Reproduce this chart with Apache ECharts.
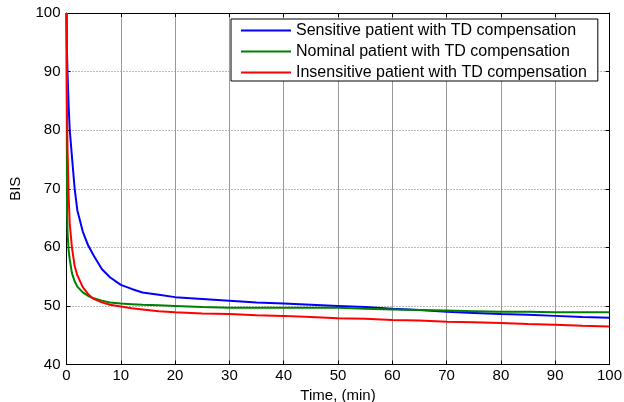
<!DOCTYPE html>
<html>
<head>
<meta charset="utf-8">
<script src="https://cdn.jsdelivr.net/npm/echarts@6/dist/echarts.min.js"></script>
<style>html,body{margin:0;padding:0;background:#fff;}#chart{width:624px;height:402px;}</style>
</head>
<body>
<div id="chart"></div>
<script>
var time        = [0, 0.1, 0.2, 0.4, 0.6, 1, 1.5, 2, 3, 4, 5, 6.5, 8, 10, 12, 14, 17, 20, 25, 30, 35, 40, 45, 50, 55, 60, 65, 70, 75, 80, 85, 90, 95, 100];
var sensitive   = [100, 93, 89.5, 84, 80, 75.5, 70, 66.3, 62.7, 60.3, 58.6, 56.3, 54.9, 53.6, 52.9, 52.3, 51.9, 51.5, 51.2, 50.9, 50.6, 50.4, 50.2, 50.0, 49.8, 49.5, 49.3, 49.0, 48.8, 48.6, 48.5, 48.3, 48.1, 48.0];
var nominal     = [100, 66, 62.5, 59.5, 57.9, 55.6, 54.2, 53.3, 52.3, 51.7, 51.3, 50.9, 50.6, 50.4, 50.3, 50.2, 50.1, 50.0, 49.8, 49.7, 49.7, 49.7, 49.7, 49.7, 49.5, 49.4, 49.3, 49.2, 49.1, 49.0, 49.0, 48.9, 48.9, 48.9];
var insensitive = [100, 82, 76.5, 68.5, 64, 60, 56.8, 55.2, 53.2, 52.0, 51.2, 50.6, 50.2, 49.9, 49.6, 49.4, 49.1, 48.9, 48.7, 48.6, 48.4, 48.3, 48.1, 47.9, 47.8, 47.6, 47.5, 47.3, 47.2, 47.1, 46.9, 46.8, 46.6, 46.5];
var seriesNames = ['Sensitive patient with TD compensation', 'Nominal patient with TD compensation', 'Insensitive patient with TD compensation'];
var xTicks = [0, 10, 20, 30, 40, 50, 60, 70, 80, 90, 100];
var yTicks = [40, 50, 60, 70, 80, 90, 100];

function pairs(vals) { return time.map(function (t, i) { return [t, vals[i]]; }); }

var font = 'Liberation Sans, Arial, sans-serif';
var chart = echarts.init(document.getElementById('chart'), null, {renderer: 'canvas'});
var axisBase = {
  axisLine: {show: true, onZero: false, lineStyle: {color: '#000', width: 1}},
  axisTick: {show: true, inside: true, length: 4, lineStyle: {color: '#000'}},
  splitLine: {show: false}
};
chart.setOption({
  animation: false,
  backgroundColor: '#fff',
  grid: {left: 66.5, right: 14.5, top: 13, bottom: 37.5, containLabel: false, outerBoundsMode: 'none'},
  legend: {
    orient: 'vertical', left: 231, top: 19,
    data: seriesNames,
    backgroundColor: '#fff', borderColor: '#000', borderWidth: 1,
    padding: [3, 11, 0, 10],
    itemWidth: 50, itemHeight: 2, itemGap: 4, icon: 'rect',
    textStyle: {fontFamily: font, fontSize: 16, color: '#000', lineHeight: 17}
  },
  xAxis: [
    Object.assign({}, axisBase, {
      type: 'value', min: xTicks[0], max: xTicks[xTicks.length - 1], interval: 10,
      position: 'bottom',
      name: 'Time, (min)', nameLocation: 'middle', nameGap: 21,
      nameTextStyle: {fontFamily: font, fontSize: 15, color: '#000'},
      axisLabel: {fontFamily: font, fontSize: 15, color: '#000', margin: 4},
      splitLine: {show: true, lineStyle: {color: '#999', width: 1, type: 'solid'}}
    }),
    Object.assign({}, axisBase, {
      type: 'value', min: xTicks[0], max: xTicks[xTicks.length - 1], interval: 10,
      position: 'top', axisLabel: {show: false}
    })
  ],
  yAxis: [
    Object.assign({}, axisBase, {
      type: 'value', min: yTicks[0], max: yTicks[yTicks.length - 1], interval: 10,
      position: 'left',
      name: 'BIS', nameLocation: 'middle', nameGap: 43,
      nameTextStyle: {fontFamily: font, fontSize: 15, color: '#000'},
      axisLabel: {fontFamily: font, fontSize: 15, color: '#000', margin: 6},
      splitLine: {show: true, lineStyle: {color: '#777', width: 1, type: [1, 2]}}
    }),
    Object.assign({}, axisBase, {
      type: 'value', min: yTicks[0], max: yTicks[yTicks.length - 1], interval: 10,
      position: 'right', axisLabel: {show: false}
    })
  ],
  series: [
    {name: seriesNames[0], type: 'line', data: pairs(sensitive), showSymbol: false, smooth: false,
     lineStyle: {color: '#0000ff', width: 2}, itemStyle: {color: '#0000ff'}},
    {name: seriesNames[1], type: 'line', data: pairs(nominal), showSymbol: false, smooth: false,
     lineStyle: {color: '#008000', width: 2}, itemStyle: {color: '#008000'}},
    {name: seriesNames[2], type: 'line', data: pairs(insensitive), showSymbol: false, smooth: false,
     lineStyle: {color: '#ff0000', width: 2}, itemStyle: {color: '#ff0000'}}
  ]
});
</script>
</body>
</html>
